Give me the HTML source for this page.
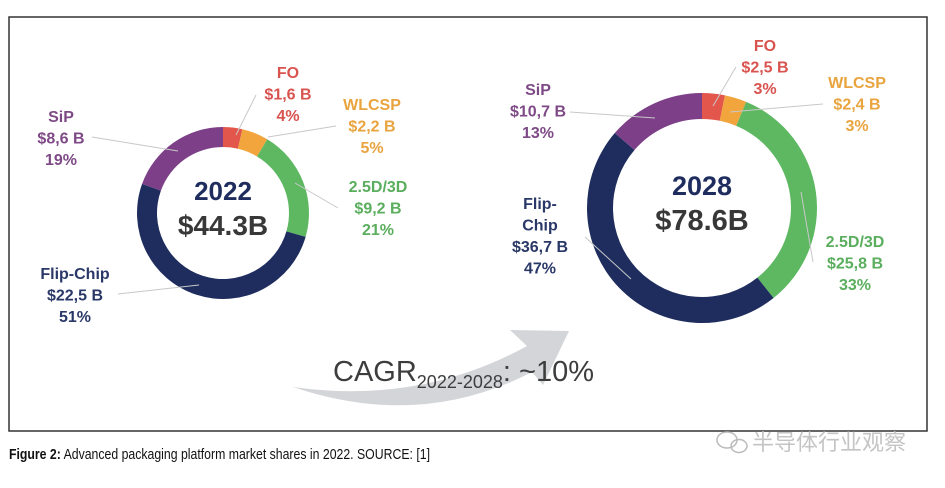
<!DOCTYPE html>
<html><head><meta charset="utf-8"><style>
body{margin:0;background:#fff;width:945px;height:483px;overflow:hidden;font-family:"Liberation Sans",sans-serif}
</style></head><body>
<svg width="945" height="483" viewBox="0 0 945 483">
<rect x="9" y="17" width="918" height="414" fill="#fff" stroke="#333" stroke-width="1.5"/>
<g id="charts"></g>
<path d="M293,387 Q420,430 532,372 L543,385 L569,331 L510,330 L527,346 Q420,405 293,387 Z" fill="#d3d5d8"/>
<text x="333" y="381" font-size="29" fill="#3d3d3d">CAGR<tspan font-size="18" dy="7">2022-2028</tspan><tspan dy="-7">: ~10%</tspan></text>
<text x="9" y="459" font-size="15" fill="#111" textLength="421" lengthAdjust="spacingAndGlyphs"><tspan font-weight="bold">Figure 2:</tspan> Advanced packaging platform market shares in 2022. SOURCE: [1]</text>
<g fill="none" stroke="#bbb" stroke-width="1.5"><ellipse cx="727" cy="440" rx="10" ry="8"/><ellipse cx="739" cy="446" rx="8" ry="6.5"/></g>
<text x="752" y="450" font-size="22" fill="#c4c4c4" font-family="'Liberation Sans','Noto Sans CJK SC',sans-serif">半导体行业观察</text>
</svg>
<script>
const categories=["FO","WLCSP","2.5D/3D","Flip-Chip","SiP"];
const colors=["#e2564c","#f2a53c","#5eb862","#1e2d5e","#7c3f88"];
const textColors=["#d9534f","#e9a43f","#5aae5d","#2a3868","#7e4a86"];
const values2022=[1.6,2.2,9.2,22.5,8.6];
const pct2022=["4%","5%","21%","51%","19%"];
const values2028=[2.5,2.4,25.8,36.7,10.7];
const pct2028=["3%","3%","33%","47%","13%"];
const ns="http://www.w3.org/2000/svg";
const root=document.getElementById('charts');
function mk(tag,attrs,parent){const e=document.createElementNS(ns,tag);for(const k in attrs)e.setAttribute(k,attrs[k]);parent.appendChild(e);return e;}
function fmt(v){return "$"+v.toFixed(1).replace(".",",")+" B";}
function donut(cfg){
  const g=mk('g',{},root);
  
  
  const tot=cfg.values.reduce((a,b)=>a+b,0);
  let a0=0;
  cfg.values.forEach((v,i)=>{
    const a1=a0+v/tot*2*Math.PI;
    const pt=(r,a)=>[cfg.cx+r*Math.sin(a),cfg.cy-r*Math.cos(a)];
    const [x0,y0]=pt(cfg.ro,a0),[x1,y1]=pt(cfg.ro,a1),[x2,y2]=pt(cfg.ri,a1),[x3,y3]=pt(cfg.ri,a0);
    const lg=(a1-a0)>Math.PI?1:0;
    const p=mk('path',{d:`M${x0},${y0}A${cfg.ro},${cfg.ro} 0 ${lg} 1 ${x1},${y1}L${x2},${y2}A${cfg.ri},${cfg.ri} 0 ${lg} 0 ${x3},${y3}Z`,fill:colors[i]},g);
    
    
    a0=a1;
  });
  cfg.labels.forEach((L,i)=>{
    const ln=mk('line',{x1:L.l[0],y1:L.l[1],x2:L.l[2],y2:L.l[3],stroke:'#c8c8c8','stroke-width':1},g);
    
    
    const t=mk('text',{x:L.x,'text-anchor':'middle','font-size':16,'font-weight':'bold',fill:textColors[i]},g);
    
    
    const lines=(L.name||[categories[i]]).concat([fmt(cfg.values[i]),cfg.pct[i]]);
    lines.forEach((s,k)=>{const ts=mk('tspan',{x:L.x,y:L.y+k*21.5},t);ts.textContent=s;});
  });
  const y=mk('text',{x:cfg.cx,y:cfg.cy-13,'text-anchor':'middle','font-size':cfg.fs,'font-weight':'bold',fill:'#1e2d5e'},g);
  y.textContent=cfg.year;
  
  
  const tt=mk('text',{x:cfg.cx,y:cfg.cy+22,'text-anchor':'middle','font-size':cfg.fs+2,'font-weight':'bold',fill:'#383838'},g);
  tt.textContent=cfg.total;
  
  
}
donut({year:"2022",total:"$44.3B",cx:223,cy:213,ro:86,ri:66,fs:26,values:values2022,pct:pct2022,labels:[
 {x:288,y:78,l:[236,135,256,95]},
 {x:372,y:110,l:[268,137,336,126]},
 {x:378,y:192,l:[295,183,338,208]},
 {x:75,y:279,name:["Flip-Chip"],l:[118,294,199,285]},
 {x:61,y:122,l:[92,137,178,151]}]});
donut({year:"2028",total:"$78.6B",cx:702,cy:208,ro:115,ri:89,fs:27,values:values2028,pct:pct2028,labels:[
 {x:765,y:51,l:[713,106,736,67]},
 {x:857,y:88,l:[730,112,823,104]},
 {x:855,y:247,l:[801,192,813,262]},
 {x:540,y:209,name:["Flip-","Chip"],l:[585,237,631,279]},
 {x:538,y:95,l:[570,112,655,118]}]});
</script>
</body></html>
